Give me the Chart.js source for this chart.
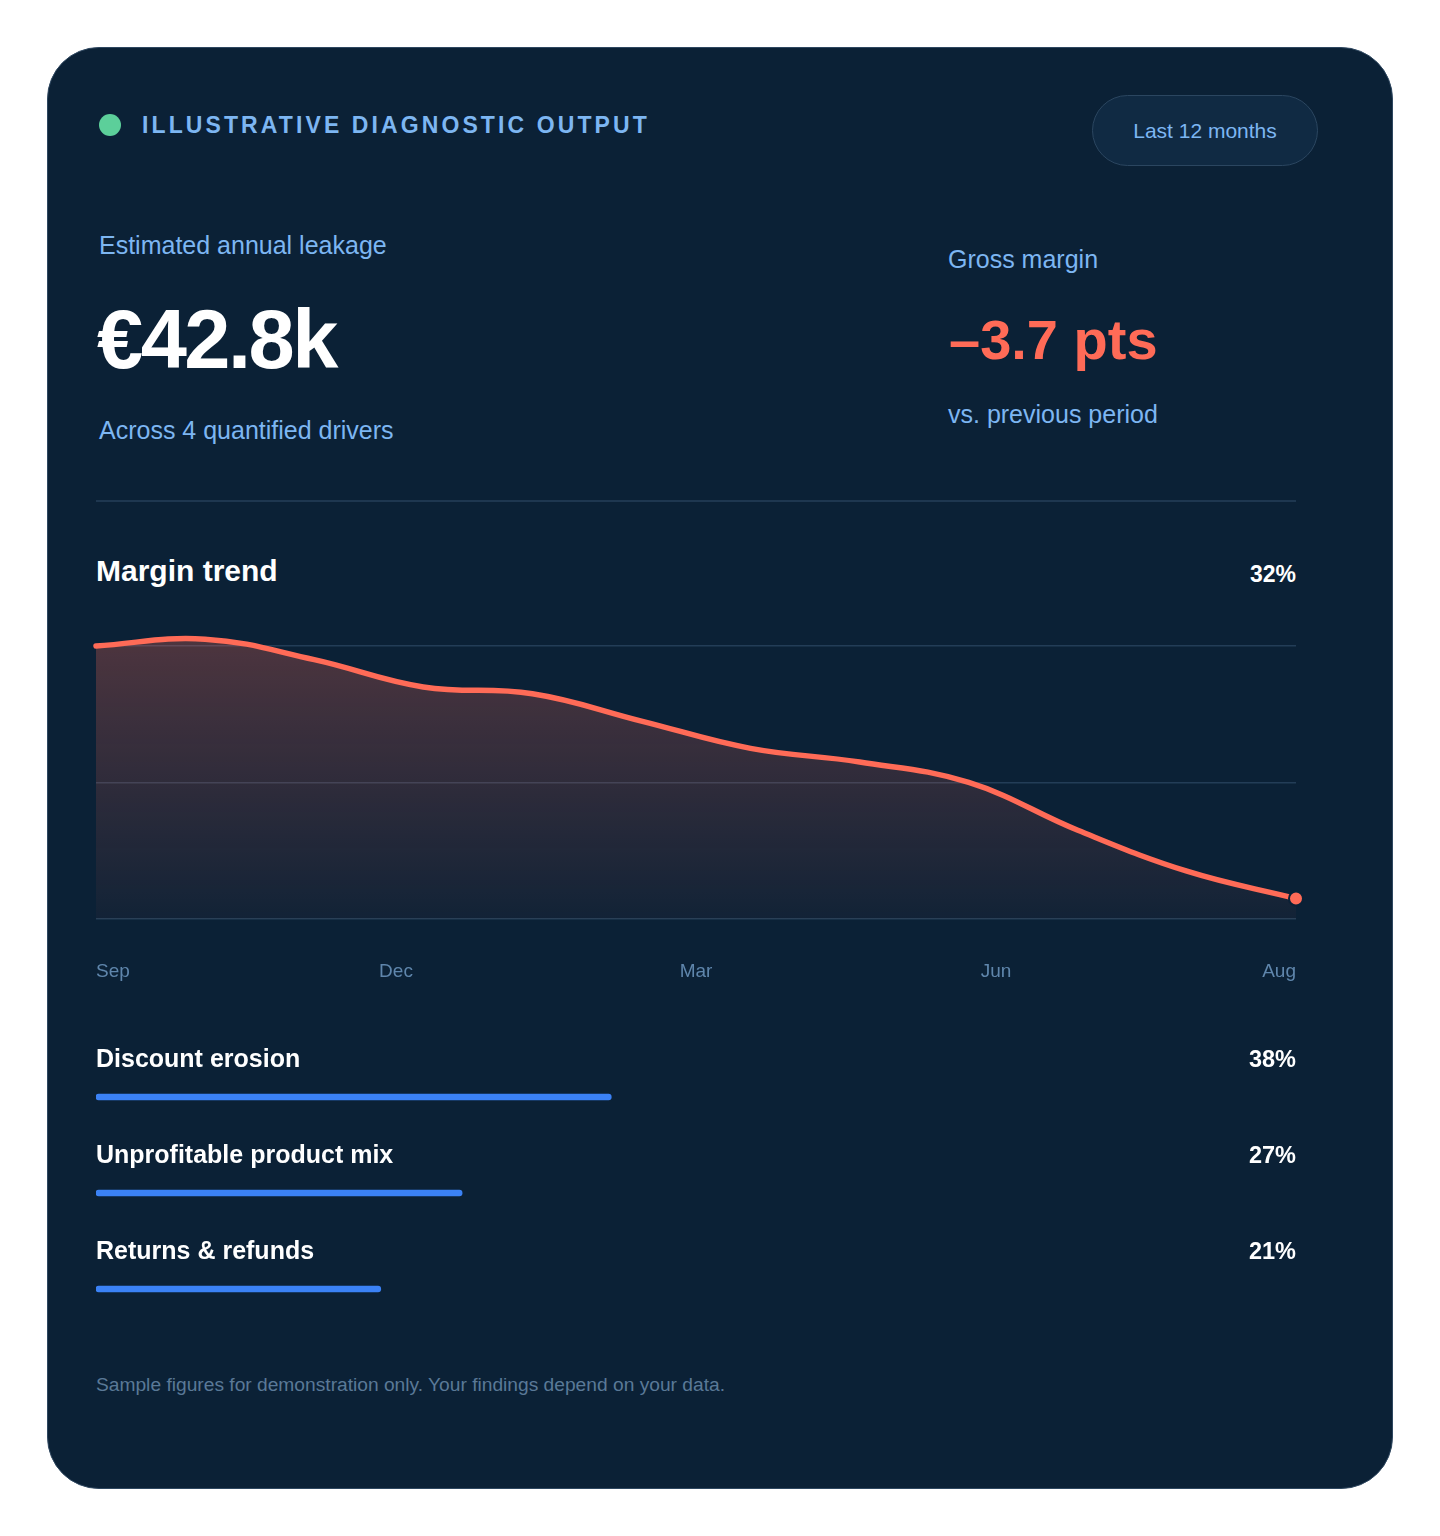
<!DOCTYPE html>
<html lang="en">
<head>
<meta charset="utf-8">
<title>Illustrative diagnostic output</title>
<script src="https://cdn.jsdelivr.net/npm/chart.js@4.4.1/dist/chart.umd.min.js"></script>
<style>
  html, body { margin: 0; padding: 0; background: #ffffff; }
  body { width: 1440px; height: 1536px; position: relative; overflow: hidden;
         font-family: "Liberation Sans", Arial, Helvetica, sans-serif; }
  .card { position: absolute; left: 47px; top: 47px; width: 1346px; height: 1442px; box-sizing: border-box;
          border-radius: 52px; background: #0b2136; border: 1px solid #2e4760; }
  .abs { position: absolute; white-space: nowrap; line-height: 1; }
  .dot { left: 99px; top: 114px; width: 22px; height: 22px; border-radius: 50%; background: #5ccf9a; }
  .kicker { left: 142px; top: 114px; font-size: 23px; font-weight: bold; letter-spacing: 3.1px; color: #7db6f2; }
  .pill { left: 1092px; top: 95px; width: 226px; height: 71px; box-sizing: border-box; border-radius: 36px;
          background: #102a43; border: 1.5px solid #2b4660; color: #7db6f2; font-size: 21px;
          display: flex; align-items: center; justify-content: center; }
  .label { font-size: 25px; color: #7db6f2; }
  .big { font-size: 83px; font-weight: bold; color: #ffffff; letter-spacing: -2.5px; }
  .delta { font-size: 56px; font-weight: bold; color: #ff6b57; }
  .rule { left: 96px; top: 500px; width: 1200px; height: 2px; background: #1e3750; }
  .title { left: 96px; top: 556px; font-size: 30px; font-weight: bold; color: #ffffff; }
  .now { left: 1096px; top: 563px; width: 200px; text-align: right; font-size: 23px; font-weight: bold; color: #ffffff; }
  .note { left: 96px; top: 1375px; font-size: 19.2px; color: #5a7997; }
  canvas { position: absolute; }
  #trend { left: 86px; top: 596px; }
  #drivers { left: 86px; top: 1010px; }
</style>
</head>
<body>
<div class="card"></div>

<div class="abs dot"></div>
<div class="abs kicker">ILLUSTRATIVE DIAGNOSTIC OUTPUT</div>
<div class="abs pill">Last 12 months</div>

<div class="abs label" style="left:99px; top:233px;">Estimated annual leakage</div>
<div class="abs big" style="left:97px; top:298px;">€42.8k</div>
<div class="abs label" style="left:99px; top:418px;">Across 4 quantified drivers</div>

<div class="abs label" style="left:948px; top:247px;">Gross margin</div>
<div class="abs delta" style="left:949px; top:312px;">–3.7 pts</div>
<div class="abs label" style="left:948px; top:402px;">vs. previous period</div>

<div class="abs rule"></div>

<div class="abs title">Margin trend</div>
<div class="abs now">32%</div>

<canvas id="trend" width="1222" height="393"></canvas>
<canvas id="drivers" width="1222" height="338"></canvas>

<div class="abs note">Sample figures for demonstration only. Your findings depend on your data.</div>

<script>
// gross margin, % per month (Sep -> Aug)
const months = ["Sep", "Oct", "Nov", "Dec", "Jan", "Feb", "Mar", "Apr", "May", "Jun", "Jul", "Aug"];
const marginPct = [36.0, 36.1, 35.8, 35.4, 35.3, 34.9, 34.5, 34.3, 34.0, 33.3, 32.7, 32.3];
const axisLabels = ["Sep", "Dec", "Mar", "Jun", "Aug"];

// leakage drivers
const drivers = ["Discount erosion", "Unprofitable product mix", "Returns & refunds"];
const driverShare = [38, 27, 21];

const FONT = "'Liberation Sans', Arial, Helvetica, sans-serif";
const CORAL = "#ff6b57";
const NAVY = "#0b2136";

Chart.defaults.font.family = FONT;
Chart.defaults.animation = false;

function coralFill(context) {
  const area = context.chart.chartArea;
  if (!area) return "rgba(255,107,87,0.15)";
  const g = context.chart.ctx.createLinearGradient(0, area.top, 0, area.bottom);
  g.addColorStop(0, "rgba(255,107,87,0.30)");
  g.addColorStop(1, "rgba(255,107,87,0.03)");
  return g;
}

new Chart(document.getElementById("trend"), {
  type: "line",
  data: {
    labels: months,
    datasets: [
      {
        label: "Gross margin",
        data: marginPct,
        borderColor: CORAL,
        borderWidth: 5.5,
        borderCapStyle: "round",
        borderJoinStyle: "round",
        tension: 0.4,
        fill: "start",
        backgroundColor: coralFill,
        clip: false,
        // only the latest month gets a dot
        pointRadius: (ctx) => (ctx.dataIndex === marginPct.length - 1 ? 7 : 0),
        pointHoverRadius: 0,
        pointBackgroundColor: CORAL,
        pointBorderColor: NAVY,
        pointBorderWidth: 2,
      },
    ],
  },
  options: {
    responsive: false,
    layout: { padding: { top: 8, left: 10, right: 12, bottom: 6 } },
    plugins: { legend: { display: false }, tooltip: { enabled: false } },
    scales: {
      x: { display: false },
      months: {
        type: "linear",
        position: "bottom",
        min: 0,
        max: axisLabels.length - 1,
        grid: { display: false, drawTicks: false },
        border: { display: false },
        ticks: {
          stepSize: 1,
          align: "inner",
          maxRotation: 0,
          padding: 41,
          color: "#5f86ac",
          font: { size: 19 },
          callback: (v) => axisLabels[v],
        },
        // keep the label gap from widening the plot sideways
        afterFit: (scale) => {
          scale.paddingLeft = 0;
          scale.paddingRight = 0;
          scale.height = 64;
        },
      },
      y: {
        min: 32,
        max: 36.6,
        border: { display: false },
        grid: { color: "rgba(125,165,205,0.22)", lineWidth: 1.5, drawTicks: false },
        ticks: { display: false, stepSize: 2, includeBounds: false },
      },
    },
  },
});

// driver names and shares drawn above each bar
const barLabels = {
  id: "barLabels",
  afterDatasetsDraw(chart) {
    const ctx = chart.ctx;
    const area = chart.chartArea;
    ctx.save();
    ctx.fillStyle = "#ffffff";
    ctx.textBaseline = "middle";
    chart.getDatasetMeta(0).data.forEach((bar, i) => {
      ctx.font = "bold 25px " + FONT;
      ctx.textAlign = "left";
      ctx.fillText(drivers[i], area.left, bar.y - 37);
      ctx.font = "bold 23.5px " + FONT;
      ctx.textAlign = "right";
      ctx.fillText(driverShare[i] + "%", area.right, bar.y - 36);
    });
    ctx.restore();
  },
};

new Chart(document.getElementById("drivers"), {
  type: "bar",
  data: {
    labels: drivers,
    datasets: [
      {
        label: "Share of leakage",
        data: driverShare,
        backgroundColor: "#3b82f6",
        barThickness: 6,
        borderRadius: 3,
        borderSkipped: false,
      },
    ],
  },
  plugins: [barLabels],
  options: {
    indexAxis: "y",
    responsive: false,
    layout: { padding: { top: 39, left: 10, right: 12, bottom: 11 } },
    plugins: { legend: { display: false }, tooltip: { enabled: false } },
    scales: {
      x: { display: false, min: 0, max: 88.5 },
      y: { display: false },
    },
  },
});
</script>
</body>
</html>
